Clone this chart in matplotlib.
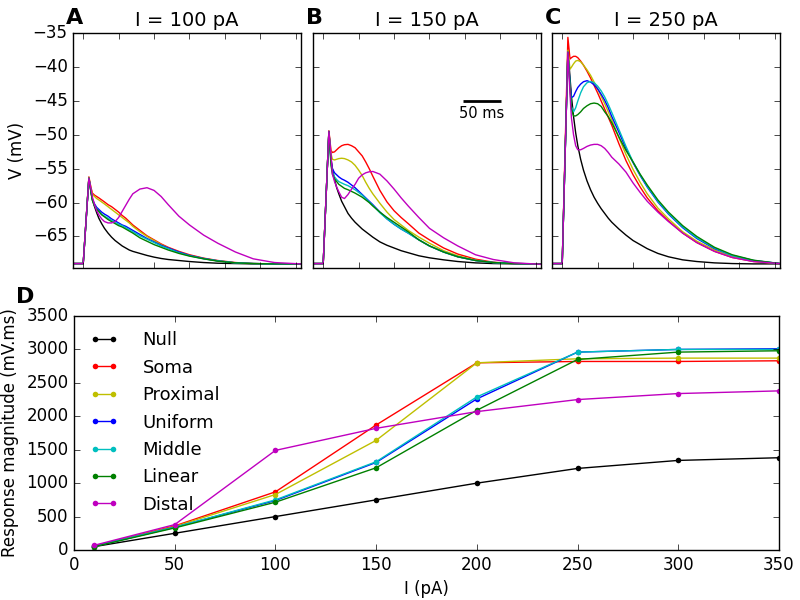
import matplotlib
matplotlib.use("Agg")
import matplotlib.pyplot as plt
import numpy as np

plt.style.use("classic")
plt.rcParams["font.family"] = ["DejaVu Sans"]
plt.rcParams["figure.facecolor"] = "white"
plt.rcParams["savefig.facecolor"] = "white"

names = ["Null", "Soma", "Proximal", "Uniform", "Middle", "Linear", "Distal"]
colors = ["k", "r", "y", "b", "c", "g", "m"]

# time grid (ms) for voltage traces
t = [-14, 0, 8, 11, 13, 16, 19, 22, 26, 30, 35, 40, 45, 50, 55, 60, 65, 70,
     80, 90, 100, 110, 120, 135, 150, 170, 190, 215, 240, 270, 307]

# Panel A: I = 100 pA
null_A = [-69, -69, -56.4, -58.5, -59.6, -60.6, -61.5, -62.3, -63.1, -63.8, -64.5, -65.1, -65.6, -66.0, -66.4, -66.7, -67.0, -67.2, -67.5, -67.8, -68.05, -68.25, -68.4, -68.55, -68.7, -68.85, -68.95, -69.0, -69.05, -69.05, -69.05]
soma_A = [-69, -69, -56.2, -57.8, -58.6, -58.9, -59.1, -59.3, -59.6, -59.9, -60.3, -60.6, -61.0, -61.4, -61.9, -62.3, -62.8, -63.3, -64.1, -64.9, -65.5, -66.1, -66.6, -67.2, -67.7, -68.2, -68.55, -68.85, -69.0, -69.05, -69.05]
prox_A = [-69, -69, -56.3, -57.9, -58.8, -59.1, -59.4, -59.6, -59.9, -60.2, -60.6, -61.0, -61.4, -61.8, -62.2, -62.6, -63.0, -63.5, -64.3, -65.0, -65.6, -66.2, -66.7, -67.3, -67.8, -68.25, -68.6, -68.9, -69.0, -69.05, -69.05]
unif_A = [-69, -69, -56.4, -58.3, -59.5, -60.2, -60.7, -61.0, -61.4, -61.7, -62.0, -62.4, -62.7, -63.0, -63.3, -63.5, -63.8, -64.1, -64.7, -65.3, -65.8, -66.3, -66.7, -67.3, -67.8, -68.25, -68.6, -68.9, -69.0, -69.05, -69.05]
midd_A = [-69, -69, -56.4, -58.4, -59.6, -60.4, -60.9, -61.3, -61.7, -62.0, -62.3, -62.6, -62.9, -63.2, -63.4, -63.7, -64.0, -64.3, -64.9, -65.4, -65.9, -66.4, -66.8, -67.4, -67.85, -68.3, -68.6, -68.9, -69.0, -69.05, -69.05]
line_A = [-69, -69, -56.4, -58.5, -59.7, -60.5, -61.0, -61.3, -61.8, -62.1, -62.5, -62.8, -63.1, -63.4, -63.6, -63.9, -64.2, -64.5, -65.2, -65.7, -66.2, -66.6, -67.0, -67.5, -67.9, -68.3, -68.65, -68.9, -69.0, -69.05, -69.05]
dist_A = [-69, -69, -56.4, -58.0, -59.2, -60.3, -61.2, -61.8, -62.4, -62.8, -63.0, -63.0, -62.8, -62.2, -61.3, -60.4, -59.5, -58.7, -58.0, -57.8, -58.2, -59.1, -60.3, -62.0, -63.3, -64.8, -66.0, -67.3, -68.3, -68.85, -69.05]

# Panel B: I = 150 pA
null_B = [-69, -69, -49.5, -53.5, -55.0, -56.6, -57.8, -58.7, -59.8, -60.6, -61.6, -62.3, -62.9, -63.4, -63.9, -64.3, -64.7, -65.1, -65.8, -66.3, -66.7, -67.1, -67.4, -67.85, -68.15, -68.45, -68.7, -68.9, -69.0, -69.05, -69.05]
soma_B = [-69, -69, -49.4, -52.3, -52.6, -52.5, -52.2, -51.9, -51.6, -51.45, -51.4, -51.6, -51.9, -52.5, -53.1, -54.0, -55.0, -56.1, -58.2, -59.9, -61.2, -62.2, -63.1, -64.5, -65.5, -66.7, -67.6, -68.35, -68.8, -69.0, -69.05]
prox_B = [-69, -69, -49.5, -52.8, -53.6, -53.7, -53.6, -53.5, -53.45, -53.5, -53.7, -54.0, -54.5, -55.2, -56.0, -57.0, -57.9, -58.7, -60.1, -61.4, -62.5, -63.3, -64.1, -65.1, -66.0, -67.1, -67.85, -68.5, -68.85, -69.0, -69.05]
unif_B = [-69, -69, -49.5, -53.8, -55.0, -55.6, -55.9, -56.2, -56.5, -56.7, -57.0, -57.4, -57.8, -58.3, -58.8, -59.3, -59.8, -60.3, -61.4, -62.4, -63.2, -63.9, -64.5, -65.5, -66.4, -67.3, -68.0, -68.55, -68.85, -69.0, -69.05]
midd_B = [-69, -69, -49.5, -54.2, -55.5, -56.2, -56.6, -56.9, -57.1, -57.3, -57.5, -57.8, -58.1, -58.5, -58.9, -59.4, -59.9, -60.4, -61.5, -62.4, -63.2, -63.9, -64.5, -65.5, -66.4, -67.3, -68.0, -68.55, -68.85, -69.0, -69.05]
line_B = [-69, -69, -49.5, -54.5, -55.8, -56.5, -56.9, -57.3, -57.6, -57.9, -58.1, -58.35, -58.6, -58.9, -59.2, -59.6, -60.0, -60.5, -61.4, -62.2, -62.9, -63.6, -64.3, -65.5, -66.4, -67.3, -68.0, -68.55, -68.85, -69.0, -69.05]
dist_B = [-69, -69, -49.5, -53.0, -55.8, -56.9, -57.7, -58.4, -59.2, -59.4, -58.8, -58.0, -57.3, -56.4, -55.9, -55.6, -55.45, -55.4, -55.8, -56.8, -58.0, -59.3, -60.5, -62.2, -63.8, -65.2, -66.4, -67.7, -68.4, -68.9, -69.1]

# Panel C: I = 250 pA
null_C = [-69, -69, -37.5, -41.5, -44.3, -47.3, -49.7, -51.6, -53.6, -55.2, -56.8, -58.1, -59.2, -60.1, -60.9, -61.6, -62.3, -62.9, -63.9, -64.8, -65.6, -66.2, -66.8, -67.5, -68.0, -68.45, -68.7, -68.9, -69.0, -69.05, -69.05]
soma_C = [-69, -69, -35.6, -38.8, -38.6, -38.4, -38.4, -38.6, -39.1, -39.7, -40.6, -41.6, -42.7, -43.8, -45.0, -46.2, -47.4, -48.6, -51.3, -53.8, -55.9, -57.7, -59.3, -61.2, -62.7, -64.5, -65.9, -67.2, -68.1, -68.7, -69.0]
prox_C = [-69, -69, -37.5, -40.3, -40.0, -39.5, -39.1, -39.0, -39.2, -39.7, -40.4, -41.2, -42.2, -43.2, -44.3, -45.4, -46.6, -47.8, -50.4, -52.9, -55.1, -57.0, -58.7, -60.8, -62.4, -64.3, -65.7, -67.0, -68.0, -68.65, -69.0]
unif_C = [-69, -69, -37.8, -42.5, -44.5, -44.3, -43.6, -43.0, -42.5, -42.15, -42.0, -42.2, -42.6, -43.2, -44.0, -44.9, -46.0, -47.3, -49.6, -52.0, -54.1, -56.0, -57.7, -59.9, -61.7, -63.7, -65.3, -66.8, -67.8, -68.55, -69.0]
midd_C = [-69, -69, -37.8, -42.5, -45.8, -46.6, -46.0, -45.0, -43.8, -42.9, -42.3, -42.1, -42.3, -42.8, -43.5, -44.4, -45.5, -46.7, -49.2, -51.7, -54.0, -55.9, -57.6, -59.8, -61.6, -63.6, -65.2, -66.7, -67.8, -68.55, -69.0]
line_C = [-69, -69, -37.8, -43.0, -46.2, -47.2, -47.2, -47.0, -46.6, -46.1, -45.7, -45.4, -45.3, -45.4, -45.8, -46.6, -47.3, -48.2, -50.3, -52.3, -54.0, -55.8, -57.4, -59.6, -61.4, -63.4, -65.0, -66.6, -67.7, -68.5, -69.0]
dist_C = [-69, -69, -37.8, -44.0, -47.5, -50.0, -51.6, -52.2, -52.2, -52.0, -51.7, -51.5, -51.4, -51.4, -51.6, -52.0, -52.6, -53.3, -54.3, -55.5, -57.1, -58.5, -59.8, -61.4, -62.8, -64.5, -65.9, -67.2, -68.1, -68.7, -69.0]

traces = {
    "A": [null_A, soma_A, prox_A, unif_A, midd_A, line_A, dist_A],
    "B": [null_B, soma_B, prox_B, unif_B, midd_B, line_B, dist_B],
    "C": [null_C, soma_C, prox_C, unif_C, midd_C, line_C, dist_C],
}
titles = {"A": "I = 100 pA", "B": "I = 150 pA", "C": "I = 250 pA"}

# Panel D: response magnitude vs current
current = [10, 50, 100, 150, 200, 250, 300, 350]
resp_null = [50, 250, 500, 750, 1000, 1220, 1340, 1380]
resp_soma = [60, 360, 870, 1870, 2800, 2820, 2820, 2830]
resp_prox = [60, 350, 830, 1640, 2800, 2860, 2870, 2870]
resp_unif = [55, 340, 740, 1310, 2260, 2960, 3000, 3010]
resp_midd = [55, 340, 750, 1320, 2290, 2960, 3000, 3000]
resp_line = [50, 330, 715, 1230, 2090, 2850, 2960, 2980]
resp_dist = [70, 380, 1490, 1820, 2070, 2250, 2340, 2380]
responses = [resp_null, resp_soma, resp_prox, resp_unif, resp_midd, resp_line, resp_dist]

fig = plt.figure(figsize=(8, 6), dpi=100)

lefts = {"A": 73.3, "B": 313.3, "C": 552.3}
for key in ["A", "B", "C"]:
    ax = fig.add_axes([lefts[key] / 800, 1 - 268.3 / 600, 227.4 / 800, 235 / 600])
    for v, c in zip(traces[key], colors):
        ax.plot(t, v, color=c, lw=1.0)
    ax.set_xlim(-14, 307)
    ax.set_ylim(-69.7, -35)
    ax.set_xticks(np.arange(0, 301, 50))
    ax.set_xticklabels([])
    ax.set_yticks(np.arange(-65, -34, 5))
    if key == "A":
        ax.set_ylabel("V (mV)", fontsize=12)
        ax.tick_params(labelsize=12)
    else:
        ax.set_yticklabels([])
    ax.set_title(titles[key], fontsize=14, pad=5)
    fig.text((lefts[key] - 7) / 800, 1 - 24 / 600, key, fontsize=16,
             fontweight="bold", ha="left", va="baseline")
    if key == "B":
        ax.plot([197, 251], [-45, -45], color="k", lw=2, solid_capstyle="butt")
        ax.text(224, -45.7, "50 ms", ha="center", va="top", fontsize=10.5)

axD = fig.add_axes([74 / 800, 1 - 550 / 600, 705 / 800, 234 / 600])
for r, c, n in zip(responses, colors, names):
    axD.plot(current, r, color=c, lw=1.0, marker="o", ms=4, mew=0, label=n)
axD.set_xlim(0, 350)
axD.set_ylim(0, 3500)
axD.set_xticks(np.arange(0, 351, 50))
axD.set_yticks(np.arange(0, 3501, 500))
axD.tick_params(labelsize=12)
axD.set_xlabel("I (pA)", fontsize=12)
axD.set_ylabel("Response magnitude (mV.ms)", fontsize=12)
axD.legend(loc="upper left", frameon=False, fontsize=13, numpoints=2,
           handlelength=1.6, handletextpad=1.35, labelspacing=0.52,
           borderaxespad=0.45)
fig.text(16 / 800, 1 - 303 / 600, "D", fontsize=16, fontweight="bold",
         ha="left", va="baseline")

fig.savefig("out.png", dpi=100)
